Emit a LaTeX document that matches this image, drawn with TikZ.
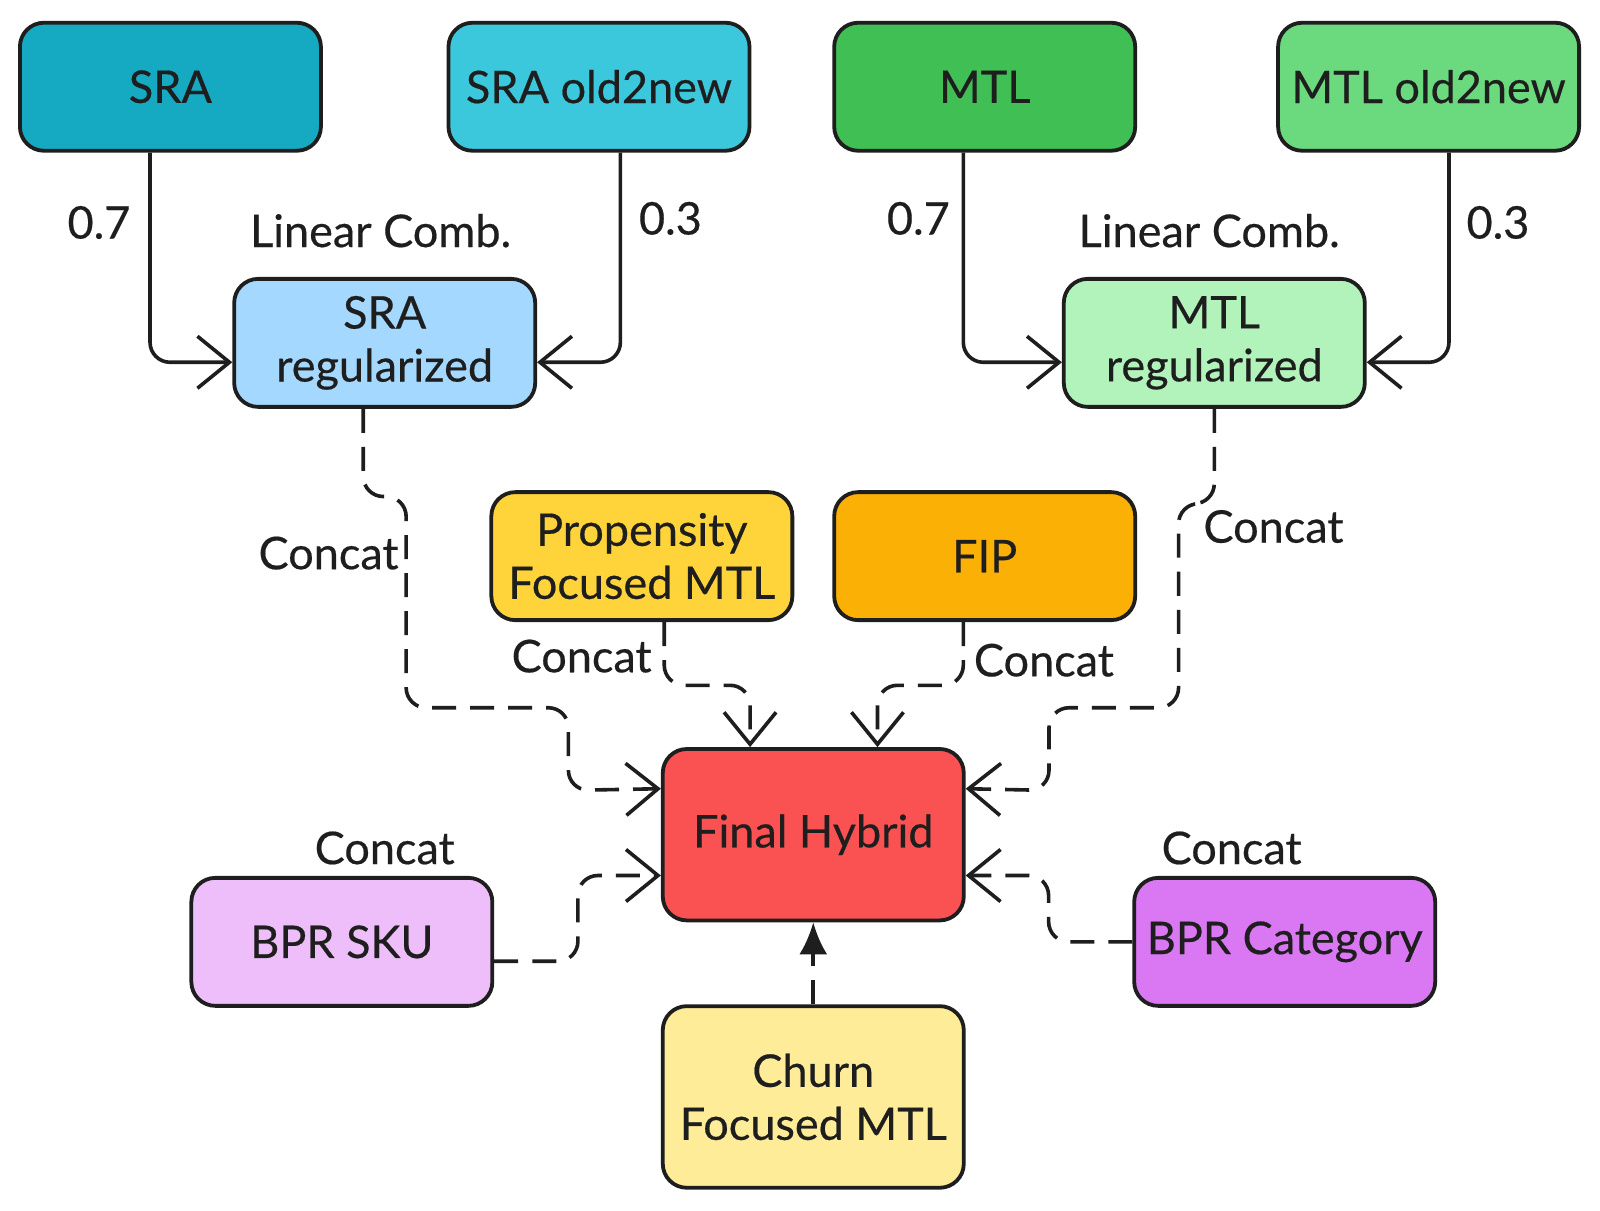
\documentclass[tikz,border=0pt]{standalone}
\usepackage{fontspec}
\setmainfont{Lato}[FakeBold=0.4]
\usetikzlibrary{arrows.meta}
\definecolor{ink}{HTML}{1E1E1E}
\definecolor{cSRA}{HTML}{16A9C2}
\definecolor{cSRAo}{HTML}{3CC8DC}
\definecolor{cMTL}{HTML}{40BF55}
\definecolor{cMTLo}{HTML}{6BDA7E}
\definecolor{cSRAr}{HTML}{A5D8FF}
\definecolor{cMTLr}{HTML}{B2F2BB}
\definecolor{cProp}{HTML}{FFD43B}
\definecolor{cFIP}{HTML}{FAB005}
\definecolor{cFin}{HTML}{FA5252}
\definecolor{cSku}{HTML}{EEBEFA}
\definecolor{cCat}{HTML}{DA77F2}
\definecolor{cChurn}{HTML}{FFEC99}
\tikzset{
  box/.style={draw=ink, line width=1.9pt, rounded corners=12pt, minimum width=150.5pt, minimum height=64pt, align=center, text=ink, font=\fontsize{22.5}{26.5}\selectfont, inner sep=2pt},
  lbl/.style={text=ink, font=\fontsize{22.5}{26.5}\selectfont, inner sep=0pt},
  arr/.style={draw=ink, line width=1.8pt, rounded corners=10pt, -{Straight Barb[length=16pt,width=26pt,line width=1.8pt]}},
  darr/.style={arr, dash pattern=on 12pt off 7pt},
}
\begin{document}
\begin{tikzpicture}[x=0.5102pt,y=-0.5102pt]
\useasboundingbox[fill=white] (0,0) rectangle (1568,1186);
\node[box, fill=cSRA] (sra) at (167,85) {SRA};
\node[box, fill=cSRAo] (srao) at (587,85) {SRA old2new};
\node[box, fill=cMTL] (mtl) at (965,85) {MTL};
\node[box, fill=cMTLo] (mtlo) at (1400,85) {MTL old2new};
\node[box, fill=cSRAr] (srareg) at (377,336) {SRA\\regularized};
\node[box, fill=cMTLr] (mtlreg) at (1190,336) {MTL\\regularized};
\node[box, fill=cProp] (prop) at (629,545) {Propensity\\Focused MTL};
\node[box, fill=cFIP] (fip) at (965,545) {FIP};
\node[box, fill=cFin, minimum height=85.7pt] (final) at (797,818) {Final Hybrid};
\node[box, fill=cSku] (sku) at (335,923) {BPR SKU};
\node[box, fill=cCat] (cat) at (1259,923) {BPR Category};
\node[box, fill=cChurn, minimum height=90.8pt] (churn) at (797,1075) {Churn\\Focused MTL};

% solid weighted connectors
\draw[arr] ([xshift=-10.2pt]sra.south) |- ([yshift=-9.7pt]srareg.west);
\draw[arr] ([xshift=10.7pt]srao.south) |- ([yshift=-9.7pt]srareg.east);
\draw[arr] ([xshift=-10.7pt]mtl.south) |- ([yshift=-9.7pt]mtlreg.west);
\draw[arr] ([xshift=10.2pt]mtlo.south) |- ([yshift=-9.7pt]mtlreg.east);

% dashed connectors
\draw[darr] ([xshift=-10.7pt]srareg.south) -- ++(0,86) -- ++(42,0) -- ++(0,207) -- ++(159,0) -- ++(0,81) -- ([yshift=23pt]final.west);
\draw[darr] ([xshift=11.2pt]prop.south) -- ++(0,62) -| ([xshift=-31.6pt]final.north);
\draw[darr] ([xshift=-10.7pt]fip.south) -- ++(0,62) -| ([xshift=32.1pt]final.north);
\draw[darr] (mtlreg.south) -- ++(0,93) -- ++(-35,0) -- ++(0,200) -- ++(-127,0) -- ++(0,81) -- ([yshift=23pt]final.east);
\draw[darr] ([yshift=-9.7pt]sku.east) -- ++(82,0) |- ([yshift=-20.4pt]final.west);
\draw[darr] (cat.west) -- ++(-82,0) |- ([yshift=-20.4pt]final.east);
\draw[draw=ink, line width=1.8pt, dash pattern=on 12pt off 7pt, -{Latex[length=16pt,width=14pt]}] (churn.north) -- (final.south);

% labels
\node[lbl] (l1) at (97,218) {0.7};
\node[lbl] (l2) at (657,214) {0.3};
\node[lbl] (l3) at (373,226) {Linear Comb.};
\node[lbl] (l4) at (900,214) {0.7};
\node[lbl] (l5) at (1185,226) {Linear Comb.};
\node[lbl] (l6) at (1468,218) {0.3};
\node[lbl] (c1) at (322,542) {Concat};
\node[lbl] (c2) at (570,643) {Concat};
\node[lbl] (c3) at (1023,647) {Concat};
\node[lbl] (c4) at (1248,516) {Concat};
\node[lbl] (c5) at (377,831) {Concat};
\node[lbl] (c6) at (1207,831) {Concat};
\end{tikzpicture}
\end{document}
